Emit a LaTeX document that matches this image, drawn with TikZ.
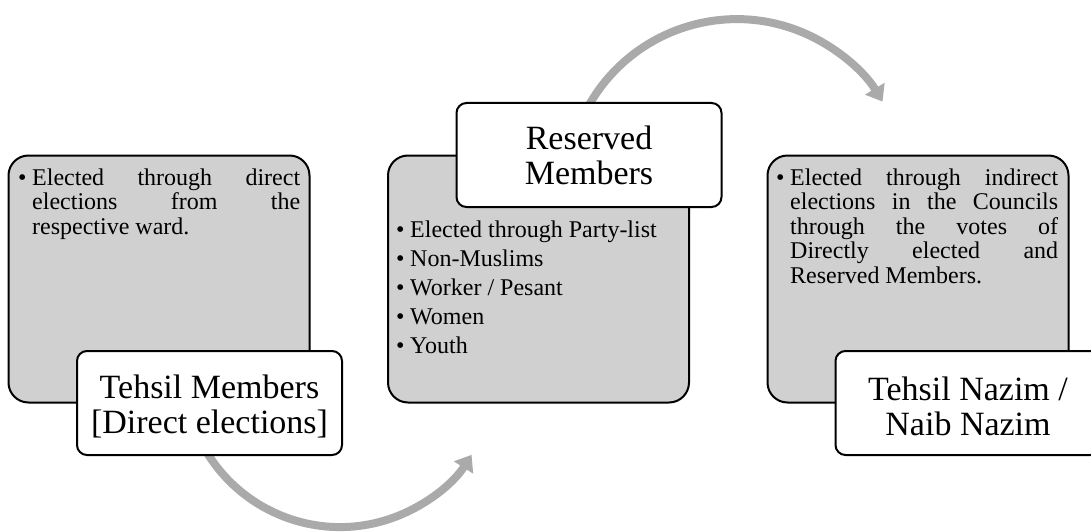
\documentclass[tikz,border=0pt]{standalone}
\usepackage{fontspec}
\setmainfont{Liberation Serif}
\usetikzlibrary{arrows.meta}

\definecolor{panelgray}{RGB}{208,208,208}
\definecolor{arrowgray}{RGB}{170,170,170}

\newcommand\bodysize{\fontsize{24pt}{24.5pt}\selectfont}
\newcommand\titlesize{\fontsize{34pt}{35.2pt}\selectfont}
% one bullet paragraph: bullet in a fixed box, text hanging beside it
% (interword glue restored so that lines can be spread)
\newcommand\bulitem[1]{\noindent\makebox[14pt][l]{\textbullet}%
  \parbox[t]{268pt}{\spaceskip=0pt\xspaceskip=0pt #1}\par}
% a fully justified line of a bullet paragraph
\newcommand\jline[1]{\makebox[268pt][s]{#1}\par}
% invisible strut that lowers a two-line title a little
\newcommand\titlestrut{\rule{0pt}{31pt}}

\begin{document}
\begin{tikzpicture}[x=1pt,y=1pt,
  panel/.style={draw=black, line width=2pt, fill=panelgray, rounded corners=20pt,
    minimum width=301pt, minimum height=247pt, inner sep=0pt},
  titlebox/.style={draw=black, line width=2pt, fill=white, rounded corners=10pt,
    minimum width=265pt, minimum height=104pt, inner sep=0pt, align=center,
    font=\titlesize},
  bullets/.style={anchor=base west, inner sep=0pt, text width=282pt, align=left,
    font=\bodysize},
  flowarrow/.style={draw=arrowgray, line width=8pt, -{Triangle[length=15pt,width=22pt]}}
]
\clip (0,0) rectangle (1091,-532);

% curved flow arrows (drawn first so the boxes cover their start)
\coordinate (arcA) at (193.4,-424.4);
\coordinate (arcB) at (582.7,-117.3);
\draw[flowarrow] (arcA) arc[start angle=200, end angle=327.5, radius=156pt];
\draw[flowarrow] (arcB) arc[start angle=155, end angle=31, radius=170pt];

% grey panels
\node[panel] (p1) at (159,-279) {};
\node[panel] (p2) at (538.5,-279) {};
\node[panel] (p3) at (918,-279) {};

% panel texts
\node[bullets] (t1) at (18,-185) {%
  \bulitem{\jline{Elected through direct}\jline{elections from the}respective ward.}};
\node[bullets] (t2) at (396,-237) {\setlength{\parskip}{4.5pt}%
  \bulitem{Elected through Party-list}%
  \bulitem{Non-Muslims}%
  \bulitem{Worker / Pesant}%
  \bulitem{Women}%
  \bulitem{Youth}};
\node[bullets] (t3) at (776,-185) {%
  \bulitem{\jline{Elected through indirect}\jline{elections in the Councils}%
    \jline{through the votes of}\jline{Directly elected and}Reserved Members.}};

% title boxes
\node[titlebox] (h1) at (209.5,-403) {\titlestrut Tehsil Members\\{[}Direct elections{]}};
\node[titlebox] (h2) at (589,-155) {Reserved\\Members};
\node[titlebox] (h3) at (968,-403) {\titlestrut Tehsil Nazim /\\Naib Nazim};
\end{tikzpicture}
\end{document}
